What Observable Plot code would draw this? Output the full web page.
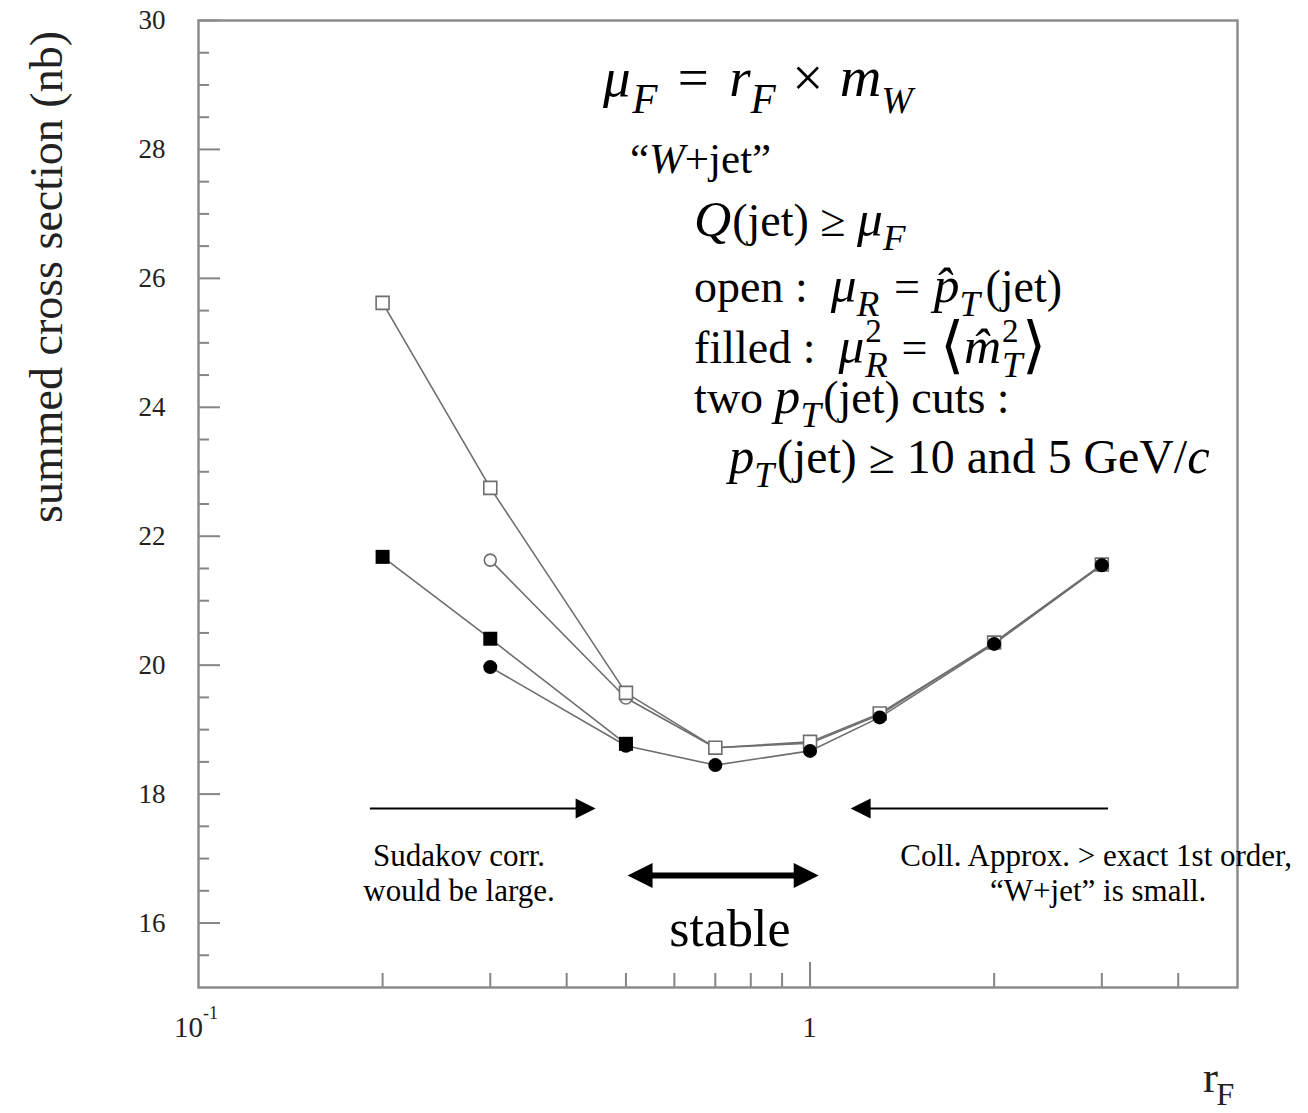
<!DOCTYPE html>
<html><head><meta charset="utf-8">
<script src="https://cdn.jsdelivr.net/npm/d3@7"></script>
<script src="https://cdn.jsdelivr.net/npm/@observablehq/plot@0.6"></script>
<style>body{margin:0;background:#fff} svg{display:block}</style>
</head><body><div id="chart"></div>
<script>
// ---- data ----
const rF = [0.2, 0.3, 0.5, 0.7, 1, 1.3, 2, 3];
const openSquares   = [25.62, 22.75, 19.57, 18.72, 18.81, 19.25, 20.35, 21.56];
const openCircles   = [null,  21.63, 19.49, 18.72, 18.79, 19.23, 20.35, 21.56];
const filledSquares = [21.68, 20.41, 18.78, null,  null,  null,  null,  null];
const filledCircles = [null,  19.97, 18.75, 18.45, 18.67, 19.19, 20.33, 21.55];

const yMajorTicks = [16, 18, 20, 22, 24, 26, 28, 30];
const yMinorTicks = [15.5, 16.5, 17, 17.5, 18.5, 19, 19.5, 20.5, 21, 21.5, 22.5, 23, 23.5,
                     24.5, 25, 25.5, 26.5, 27, 27.5, 28.5, 29, 29.5];
const xMinorTicks = [0.2, 0.3, 0.4, 0.5, 0.6, 0.7, 0.8, 0.9, 2, 3, 4];
const xMajorTicks = [1];

// annotation arrows (data coordinates): tail -> tip
const singleArrows = [
  {tail: 0.191, tip: 0.446, y: 17.777},
  {tail: 3.077, tip: 1.165, y: 17.777}
];
const doubleArrows = [{left: 0.503, right: 1.033, y: 16.738}];

const seriesList = [
  {name: "openSquare", values: openSquares},
  {name: "openCircle", values: openCircles},
  {name: "filledSquare", values: filledSquares},
  {name: "filledCircle", values: filledCircles}
];
const rows = seriesList.flatMap(s => rF.map((x, i) => ({series: s.name, x, y: s.values[i]})))
  .filter(d => d.y != null);
const of = name => rows.filter(d => d.series === name);

// ---- layout ----
const W = 1308, H = 1113, mL = 198, mR = 71, mT = 20, mB = 126;
const fw = W - mL - mR, fh = H - mT - mB;
const axisGray = "#858585", lineGray = "#6e6e6e";

const head = {draw(ctx, size) {
  const r = Math.sqrt(size / Math.PI);
  ctx.moveTo(0, 0); ctx.lineTo(-2 * r, -r); ctx.lineTo(-2 * r, r); ctx.closePath();
}};

const rightHeads = singleArrows.map(a => ({x: a.tip, y: a.y, rot: a.tip > a.tail ? 0 : 180}));
const dblHeads = doubleArrows.flatMap(a => [{x: a.right, y: a.y, rot: 0}, {x: a.left, y: a.y, rot: 180}]);

const plot = Plot.plot({
  width: W, height: H,
  marginLeft: mL, marginRight: mR, marginTop: mT, marginBottom: mB,
  x: {type: "log", domain: [0.1, 5], axis: null},
  y: {domain: [15, 30], axis: null},
  style: {fontFamily: "'Liberation Serif', 'Times New Roman', serif", background: "#fff"},
  marks: [
    Plot.tickY(yMajorTicks, {y: d => d, insetRight: fw - 22, stroke: axisGray, strokeWidth: 2}),
    Plot.tickY(yMinorTicks, {y: d => d, insetRight: fw - 11, stroke: axisGray, strokeWidth: 2}),
    Plot.tickX(xMinorTicks, {x: d => d, insetTop: fh - 14, stroke: axisGray, strokeWidth: 2}),
    Plot.tickX(xMajorTicks, {x: d => d, insetTop: fh - 25, stroke: axisGray, strokeWidth: 2}),
    Plot.frame({stroke: "#8c8c8c", strokeWidth: 2.5}),
    Plot.line(rows, {x: "x", y: "y", z: "series", stroke: lineGray, strokeWidth: 1.6}),
    Plot.dot(of("openCircle"), {x: "x", y: "y", symbol: "circle", r: 6, fill: "white", stroke: lineGray, strokeWidth: 1.6}),
    Plot.dot(of("openSquare"), {x: "x", y: "y", symbol: "square", r: 7.3, fill: "white", stroke: lineGray, strokeWidth: 1.6}),
    Plot.dot(of("filledSquare"), {x: "x", y: "y", symbol: "square", r: 7.9, fill: "black"}),
    Plot.dot(of("filledCircle"), {x: "x", y: "y", symbol: "circle", r: 7, fill: "black"}),
    // arrows
    Plot.ruleY(singleArrows.filter(a => a.tip > a.tail), {x1: "tail", x2: "tip", y: "y", stroke: "black", strokeWidth: 2, insetRight: 12}),
    Plot.ruleY(singleArrows.filter(a => a.tip < a.tail), {x1: "tip", x2: "tail", y: "y", stroke: "black", strokeWidth: 2, insetLeft: 12}),
    Plot.dot(rightHeads, {x: "x", y: "y", symbol: head, r: 10, fill: "black", rotate: "rot"}),
    Plot.ruleY(doubleArrows, {x1: "left", x2: "right", y: "y", stroke: "black", strokeWidth: 6, insetLeft: 18, insetRight: 18}),
    Plot.dot(dblHeads, {x: "x", y: "y", symbol: head, r: 12.5, fill: "black", rotate: "rot"}),
    // y tick labels
    Plot.text(yMajorTicks, {y: d => d, text: d => String(d), frameAnchor: "left", textAnchor: "end", dx: -33, fontSize: 27, fill: "#222"})
  ]
});
document.getElementById("chart").appendChild(plot);

const X = plot.scale("x"), Y = plot.scale("y");

// rich text helper: parts = [{t, i, k, dy, hold, f, w, pre, gap}]
function rich(xv, yv, parts, size, {anchor = "start", rotate = 0, dx = 0, fill = "black"} = {}) {
  const g = d3.select(plot).append("g").attr("text-anchor", "start");
  const inner = g.append("g");
  let cx = 0, held = 0;
  for (const p of parts) {
    const k = p.k ?? 1;
    cx += (p.pre ?? 0) * size;
    const t = inner.append("text")
      .attr("text-anchor", "start")
      .attr("x", cx).attr("y", (p.dy ?? 0) * size)
      .attr("font-size", size * k)
      .attr("font-style", p.i ? "italic" : null)
      .attr("font-family", p.f ?? null)
      .attr("font-weight", p.w ?? null)
      .attr("fill", fill)
      .style("white-space", "pre")
      .text(p.t);
    const w = t.node().getComputedTextLength();
    if (p.hold) held = Math.max(held, w);
    else { cx += Math.max(w, held) + (p.gap ?? 0) * size; held = 0; }
  }
  const off = anchor === "middle" ? -cx / 2 : anchor === "end" ? -cx : 0;
  inner.attr("transform", `translate(${off + dx},0)`);
  g.attr("transform", `translate(${X.apply(xv)},${Y.apply(yv)}) rotate(${rotate})`);
}

const M = (t, k = 1.12, extra = {}) => ({t, i: true, k, ...extra});          // math italic
const sub = (t, k = 0.8, extra = {}) => ({t, i: true, k, dy: 0.3, ...extra}); // subscript
const sup2 = {t: "2", k: 0.72, dy: -0.45, hold: true, pre: 0.02};
const R = (t, extra = {}) => ({t, ...extra});
const bracket = t => ({t, f: "'DejaVu Sans ExtraLight', 'DejaVu Sans', sans-serif", w: 200, k: 1.35, dy: 0.06});

// formula block
rich(0.4595, 28.821, [M("μ", 1), sub("F", 0.75, {pre: 0.03}), R(" = ", {pre: 0.12, gap: 0.12}), M("r", 1),
  sub("F", 0.75), R(" × ", {pre: 0.05, gap: 0.05}), M("m", 1.05), sub("W", 0.68)], 55);
rich(0.5085, 27.627, [R("“"), {t: "W", i: true}, R("+jet”")], 43);
rich(0.6475, 26.650, [M("Q"), R("(jet) ≥ ", {pre: 0.02}), M("μ"), sub("F")], 46);
rich(0.6475, 25.626, [R("open :  "), M("μ"), sub("R"), R(" = ", {pre: 0.07, gap: 0.05}), M("p̂"), sub("T"), R("(jet)", {pre: 0.12})], 46);
rich(0.6475, 24.680, [R("filled :  "), M("μ"), sup2, sub("R"), R(" = ", {pre: 0.05, gap: 0.02}),
  bracket("⟨"), M("m̂"), sup2, sub("T"), bracket("⟩")], 46);
rich(0.6475, 23.904, [R("two "), M("p"), sub("T"), R("(jet) cuts :", {pre: 0.05})], 46);
rich(0.7385, 22.974, [M("p", 1.1), sub("T", 0.78), R("(jet) ≥ 10 and 5 GeV/", {pre: 0.06, k: 1.04}), M("c", 1.1)], 46);

// bottom notes
rich(0.2672, 16.878, [R("Sudakov corr.")], 31, {anchor: "middle"});
rich(0.2672, 16.335, [R("would be large.")], 31, {anchor: "middle"});
rich(2.942, 16.878, [R("Coll. Approx. > exact 1st order,")], 31, {anchor: "middle"});
rich(2.965, 16.335, [R("“W+jet” is small.")], 31, {anchor: "middle"});
rich(0.741, 15.637, [R("stable")], 52, {anchor: "middle"});

// x tick labels
rich(0.1, 14.225, [R("10"), {t: "-1", k: 0.62, dy: -0.62}], 29, {dx: -24, fill: "#222"});
rich(1, 14.225, [R("1")], 29, {anchor: "middle", fill: "#222"});

// axis titles
rich(4.40, 13.372, [R("r"), {t: "F", k: 0.72, dy: 0.3, pre: -0.04}], 45, {fill: "#222"});
rich(0.0599, 26.014, [R("summed cross section (nb)")], 46, {anchor: "middle", rotate: -90, fill: "#222"});
</script>
</body></html>
